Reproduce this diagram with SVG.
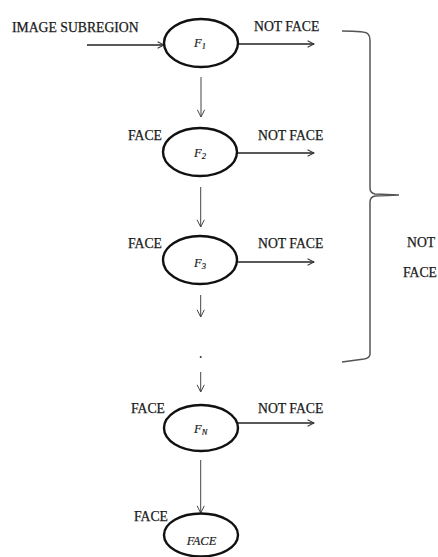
<svg xmlns="http://www.w3.org/2000/svg" width="438" height="557" viewBox="0 0 438 557">
<defs>
<marker id="ah" viewBox="0 0 10 10" refX="9" refY="5" markerWidth="8" markerHeight="8" markerUnits="userSpaceOnUse" orient="auto">
<path d="M1,1 L9,5 L1,9" fill="none" stroke="#333" stroke-width="1.3"/>
</marker>
<marker id="ahv" viewBox="0 0 10 10" refX="9" refY="5" markerWidth="9" markerHeight="9" markerUnits="userSpaceOnUse" orient="auto">
<path d="M1,1 L9,5 L1,9" fill="none" stroke="#444" stroke-width="1.1"/>
</marker>
</defs>
<style>
.lbl{font-family:"Liberation Serif","Times New Roman",serif;font-size:13.7px;fill:#1a1a1a;stroke:#1a1a1a;stroke-width:0.25}
.inner{font-family:"Liberation Serif","Times New Roman",serif;font-style:italic;font-size:12.5px;fill:#222;stroke:#222;stroke-width:0.2}
.sub{font-size:8.5px}
.node{fill:#fff;stroke:#111;stroke-width:2.4}
.h{stroke:#222;stroke-width:1.4;fill:none;marker-end:url(#ah)}
.v{stroke:#444;stroke-width:1;fill:none;marker-end:url(#ahv)}
.brace{stroke:#555;stroke-width:1.5;fill:none}
</style>
<rect width="438" height="557" fill="#fff"/>
<g id="connectors">
<line class="h" x1="87" y1="45" x2="164" y2="45"/>
<line class="h" x1="238" y1="44" x2="314" y2="44"/>
<line class="h" x1="237" y1="153" x2="314" y2="153"/>
<line class="h" x1="237" y1="262" x2="314" y2="262"/>
<line class="h" x1="237" y1="423" x2="314" y2="423"/>
<line class="v" x1="201" y1="77" x2="201" y2="117"/>
<line class="v" x1="200.7" y1="187" x2="200.7" y2="227"/>
<line class="v" x1="200.7" y1="295" x2="200.7" y2="317"/>
<line class="v" x1="200.7" y1="372" x2="200.7" y2="392"/>
<line class="v" x1="200.7" y1="460" x2="200.7" y2="513"/>
</g>
<g id="dot"><circle cx="200.7" cy="357" r="1" fill="#333"/></g>
<g id="n1">
<ellipse class="node" cx="201" cy="43" rx="37" ry="24"/>
<text class="inner" x="194" y="47">F<tspan class="sub" dy="2">1</tspan></text>
</g>
<g id="n2">
<ellipse class="node" cx="200" cy="152" rx="37" ry="24"/>
<text class="inner" x="194" y="157">F<tspan class="sub" dy="2">2</tspan></text>
</g>
<g id="n3">
<ellipse class="node" cx="200" cy="260" rx="37" ry="24"/>
<text class="inner" x="194" y="267">F<tspan class="sub" dy="2">3</tspan></text>
</g>
<g id="nN">
<ellipse class="node" cx="201" cy="428" rx="37" ry="23"/>
<text class="inner" x="194" y="433">F<tspan class="sub" dy="2">N</tspan></text>
</g>
<g id="nFace">
<ellipse class="node" cx="201" cy="535" rx="37" ry="21.5"/>
<text class="inner" x="201.5" y="545" text-anchor="middle">FACE</text>
</g>
<g id="labels">
<text class="lbl" x="12" y="32">IMAGE SUBREGION</text>
<text class="lbl" x="254" y="31">NOT FACE</text>
<text class="lbl" x="128" y="140">FACE</text>
<text class="lbl" x="258" y="140">NOT FACE</text>
<text class="lbl" x="128" y="248">FACE</text>
<text class="lbl" x="258" y="248">NOT FACE</text>
<text class="lbl" x="131" y="413">FACE</text>
<text class="lbl" x="258" y="413">NOT FACE</text>
<text class="lbl" x="134" y="521">FACE</text>
<text class="lbl" x="407" y="247">NOT</text>
<text class="lbl" x="403" y="277">FACE</text>
</g>
<g id="brace">
<path class="brace" d="M342,31 Q366,31 368,34 Q370,36 370,40 L370,188 Q370,193 375,194 L399,195 L375,196 Q370,197 370,202 L370,354 Q370,358 364,359 L342,362"/>
</g>
</svg>
